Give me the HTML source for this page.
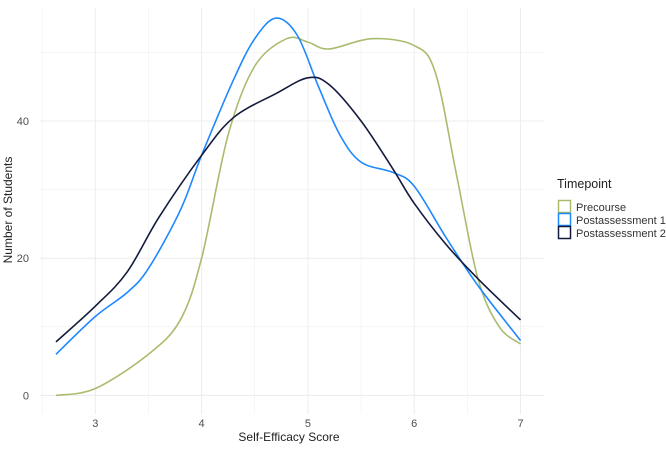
<!DOCTYPE html>
<html><head><meta charset="utf-8"><style>
body{margin:0;background:#fff;font-family:"Liberation Sans",sans-serif}
text{font-family:"Liberation Sans",sans-serif}
</style></head><body>
<svg id="chart" width="666" height="446" xmlns="http://www.w3.org/2000/svg">
<g id="grid"></g><g id="lines"></g><g id="axes"></g>
<g>
<text x="557" y="188" font-size="12.5" fill="#222">Timepoint</text>
<rect x="558.5" y="200.5" width="12" height="12" fill="none" stroke="#A9BC6E" stroke-width="1.5"/>
<text x="576" y="211" font-size="11" fill="#333">Precourse</text>
<rect x="558.5" y="213.5" width="12" height="12" fill="none" stroke="#1E88FF" stroke-width="1.5"/>
<text x="576" y="224" font-size="11" fill="#333">Postassessment 1</text>
<rect x="558.5" y="226.5" width="12" height="12" fill="none" stroke="#141a3c" stroke-width="1.5"/>
<text x="576" y="237" font-size="11" fill="#333">Postassessment 2</text>
</g>
<text x="289" y="441" font-size="12" fill="#222" text-anchor="middle">Self-Efficacy Score</text>
<text transform="translate(12,210) rotate(-90)" font-size="12" fill="#222" text-anchor="middle">Number of Students</text>
</svg>
<script>
const xTicks=[3,4,5,6,7];
const yTicks=[0,20,40];
const preX=[2.63,3,3.5,3.8,4,4.25,4.5,4.8,5,5.2,5.6,6,6.2,6.4,6.6,6.8,7];
const preY=[0,1,6,11,20,38,48,52,51.5,50.5,52,51,47,32,17,10,7.5];
const p1X=[2.63,3,3.3,3.5,3.8,4,4.3,4.5,4.7,4.9,5.1,5.3,5.5,5.8,6,6.3,6.6,7];
const p1Y=[6,11.5,15,18.5,27,35,46,52,55,52.5,45,38,34,32.5,30.5,23,16,8];
const p2X=[2.63,3,3.3,3.6,4,4.3,4.7,5,5.2,5.5,5.8,6,6.3,6.6,7];
const p2Y=[7.8,13,18,26,35,40.5,44,46.3,45.3,40,33,28,22,17,11];
const sx=v=>95.3+(v-3)*106.3;
const sy=v=>395.4-v*6.86;
const NS="http://www.w3.org/2000/svg";
const grid=document.getElementById('grid'),lines=document.getElementById('lines'),axes=document.getElementById('axes');
function ln(p,x1,y1,x2,y2,c,w){const l=document.createElementNS(NS,'line');l.setAttribute('x1',x1);l.setAttribute('y1',y1);l.setAttribute('x2',x2);l.setAttribute('y2',y2);l.setAttribute('stroke',c);l.setAttribute('stroke-width',w);p.appendChild(l);return l;}
for(let v=2.5;v<=7.01;v+=0.5){const l=ln(grid,sx(v),8,sx(v),414,'#ececec',v%1?0.5:1);

}
for(let v=0;v<=50;v+=10){const l=ln(grid,40,sy(v),544,sy(v),'#ececec',v%20?0.5:1);

}
xTicks.forEach(v=>{const t=document.createElementNS(NS,'text');t.setAttribute('x',sx(v));t.setAttribute('y',427);t.setAttribute('font-size','11');t.setAttribute('fill','#4d4d4d');t.setAttribute('text-anchor','middle');t.textContent=v;


axes.appendChild(t);});
yTicks.forEach(v=>{const t=document.createElementNS(NS,'text');t.setAttribute('x',29);t.setAttribute('y',sy(v)+4);t.setAttribute('font-size','11');t.setAttribute('fill','#4d4d4d');t.setAttribute('text-anchor','end');t.textContent=v;


axes.appendChild(t);});
function path(xs,ys){const P=xs.map((x,i)=>[sx(x),sy(ys[i])]);let d='M'+P[0][0]+','+P[0][1];
for(let i=0;i<P.length-1;i++){const p0=P[i-1]||P[i],p1=P[i],p2=P[i+1],p3=P[i+2]||p2;
const c1=[p1[0]+(p2[0]-p0[0])/6,p1[1]+(p2[1]-p0[1])/6],c2=[p2[0]-(p3[0]-p1[0])/6,p2[1]-(p3[1]-p1[1])/6];
d+=' C'+c1+' '+c2+' '+p2;}return d;}
function series(xs,ys,c,name){const p=document.createElementNS(NS,'path');p.setAttribute('d',path(xs,ys));p.setAttribute('fill','none');p.setAttribute('stroke',c);p.setAttribute('stroke-width','1.6');


lines.appendChild(p);}
series(preX,preY,'#A9BC6E','precourse-line');
series(p1X,p1Y,'#1E88FF','postassessment-1-line');
series(p2X,p2Y,'#141a3c','postassessment-2-line');
</script>
</body></html>
